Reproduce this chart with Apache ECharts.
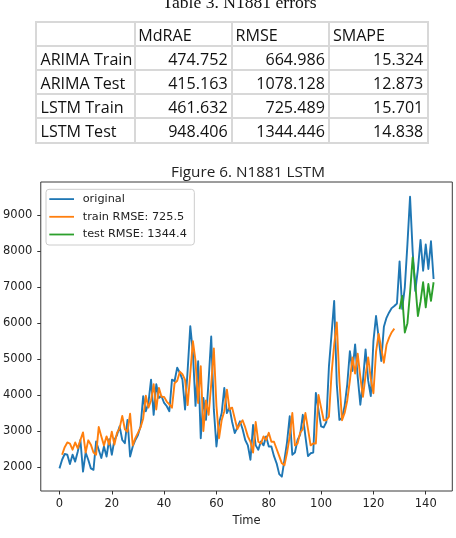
<!DOCTYPE html>
<html><head><meta charset="utf-8">
<script src="https://cdn.jsdelivr.net/npm/echarts@6/dist/echarts.min.js"></script>
<style>
html,body{margin:0;padding:0;background:#fff;}
#chart{position:absolute;left:0;top:0;width:456px;height:538px;}
#tableTitle{position:absolute;left:0;width:479px;text-align:center;top:-6px;font-family:'Liberation Serif';font-size:17.6px;line-height:17.6px;color:#111;white-space:nowrap;z-index:2;}
#table{position:absolute;left:36px;top:22px;width:394px;height:123px;z-index:2;}
.ln{position:absolute;background:#d8d8d8;}
.cell{position:absolute;height:24px;line-height:24px;font-family:'Open Sans';font-size:16.1px;color:#111;white-space:nowrap;}
</style></head>
<body>
<div id="chart"></div>
<div id="tableTitle"></div>
<div id="table"></div>
<script>
// ---------- data ----------
const tableTitle = 'Table 3. N1881 errors';
const tableHeader = ['', 'MdRAE', 'RMSE', 'SMAPE'];
const tableRowLabels = ['ARIMA Train', 'ARIMA Test', 'LSTM Train', 'LSTM Test'];
const tableMdRAE = ['474.752', '415.163', '461.632', '948.406'];
const tableRMSE = ['664.986', '1078.128', '725.489', '1344.446'];
const tableSMAPE = ['15.324', '12.873', '15.701', '14.838'];

const chartTitle = 'Figure 6. N1881 LSTM';
const seriesNames = ['original', 'train RMSE: 725.5', 'test RMSE: 1344.4'];
const xTicks = [0, 20, 40, 60, 80, 100, 120, 140];
const yTicks = [2000, 3000, 4000, 5000, 6000, 7000, 8000, 9000];

const original = [
 1960,2200,2360,2340,2080,2340,2150,2430,2750,1870,
 2400,2200,1960,1920,2710,2480,2250,2570,2290,2770,
 2340,2750,2890,3130,2750,2660,3310,2290,2570,2750,
 2890,3130,3970,3550,3780,4430,3450,4300,3920,3970,
 3780,3690,3550,4430,4390,4760,4620,4430,3600,4700,
 5920,5180,3700,4940,2800,3920,3310,4400,5630,3600,
 2570,3220,3500,4200,3500,3650,3250,2940,3100,3270,
 3050,2750,2600,2200,3170,2600,2480,2710,2600,2850,
 2570,2570,2300,2100,1800,1730,2200,2700,3410,2340,
 2400,2750,2900,3450,2850,2300,2380,2400,4060,3590,
 3130,3100,3250,4800,5700,6620,4300,3310,3360,3700,
 4300,5220,4670,5410,4500,3730,4400,5270,4400,3970,
 5500,6200,5600,4950,5900,6150,6300,6420,6480,6550,
 7720,6400,7000,8200,9520,8000,6900,7500,8320,7460,
 8190,7510,8280,7230
];
const trainStart = 1;
const trainPred = [
 2340,2550,2680,2650,2480,2680,2520,2750,2960,
 2400,2740,2620,2400,2340,3110,2850,2600,2850,2620,
 2980,2620,2950,3080,3420,3050,2980,3480,2600,2800,
 2950,3100,3350,3980,3650,3850,4300,3600,4200,3950,
 3950,3820,3740,3650,4330,4400,4650,4580,4420,3720,
 4600,5500,4950,3780,4800,3000,3850,3450,4300,5300,
 3700,2800,3300,3550,4150,3600,3650,3350,3050,3200,
 3300,3100,2850,2700,2400,3250,2700,2650,2850,2750,
 2950,2700,2700,2500,2300,2100,2050,2400,2850,3500,
 2600,2650,2950,3050,3500,3050,2600,2650,2650,4000,
 3650,3300,3300,3400,4600,5400,6020,4400,3300,3500,
 3850,4400,5050,4600,5150,4500,3950,4550,5050,4450,
 4050,5200,5700,5300,4900,5400,5600,5750,5850
];
const testStart = 130;
const testPred = [6390,6760,5740,6000,6850,7830,7100,6200,6600,7140,6440,7090,6620,7140];

// ---------- table (HTML text) ----------
document.getElementById('tableTitle').textContent = tableTitle;
const tbl = document.getElementById('table');
const colX = [0, 98.7, 196, 293.3, 391.7];
const rowY = [0, 24, 48, 72, 96, 120.5];
colX.forEach(x => { const d = document.createElement('div'); d.className = 'ln';
  d.style.cssText = `left:${x-1}px;top:-1px;width:2px;height:${rowY[5]+2}px;`; tbl.appendChild(d); });
rowY.forEach(y => { const d = document.createElement('div'); d.className = 'ln';
  d.style.cssText = `left:-1px;top:${y-1}px;width:${colX[4]+2}px;height:2px;`; tbl.appendChild(d); });
function addCell(text, r, c, align) {
  const d = document.createElement('div'); d.className = 'cell'; d.textContent = text;
  const top = rowY[r] + 1.2;
  if (align === 'left') { d.style.left = (colX[c] + (c === 0 ? 4.5 : 3.6)) + 'px'; }
  else { d.style.right = (394 - colX[c+1] + 4.4) + 'px'; d.style.textAlign = 'right'; }
  d.style.top = top + 'px'; tbl.appendChild(d);
}
tableHeader.forEach((h, c) => { if (h) addCell(h, 0, c, 'left'); });
const tableCols = [tableMdRAE, tableRMSE, tableSMAPE];
tableRowLabels.forEach((lab, r) => {
  addCell(lab, r+1, 0, 'left');
  tableCols.forEach((col, c) => addCell(col[r], r+1, c+1, 'right'));
});

// ---------- chart ----------
const chart = echarts.init(document.getElementById('chart'), null, {renderer: 'canvas'});
const tickFont = {fontFamily: 'DejaVu Sans', fontSize: 11.5, color: '#222'};
const lineCommon = {type: 'line', symbol: 'none', showSymbol: false, silent: true};
chart.setOption({
  animation: false,
  title: {text: chartTitle, left: 171, top: 165.5, padding: 0,
    textStyle: {fontFamily: 'Open Sans', fontSize: 15.3, fontWeight: 'normal', color: '#222'}},
  grid: {left: 40.7, right: 3.7, top: 182, bottom: 47, show: true, borderColor: '#3a3a3a', borderWidth: 1, backgroundColor: 'transparent'},
  legend: {
    orient: 'vertical', left: 46, top: 189.3, data: seriesNames,
    icon: 'rect', itemWidth: 24.7, itemHeight: 1.8, itemGap: 4.7,
    padding: [3.3, 7.5, 4, 3.3],
    backgroundColor: 'rgba(255,255,255,0.8)', borderColor: '#cccccc', borderWidth: 1, borderRadius: 3,
    textStyle: {fontFamily: 'DejaVu Sans', fontSize: 11.3, color: '#222', lineHeight: 13, padding: [0, 0, 0, 3.7]}
  },
  xAxis: {
    type: 'value', min: -7.15, max: 150.15,
    axisLine: {show: false, onZero: false}, splitLine: {show: false},
    axisTick: {show: true, customValues: xTicks, length: 3.5, lineStyle: {color: '#333', width: 1}},
    axisLabel: Object.assign({customValues: xTicks, margin: 7.5, formatter: v => String(v)}, tickFont),
    name: 'Time', nameLocation: 'middle', nameGap: 23,
    nameTextStyle: {fontFamily: 'DejaVu Sans', fontSize: 11.5, color: '#222'}
  },
  yAxis: {
    type: 'value', min: 1330, max: 9930,
    axisLine: {show: false, onZero: false}, splitLine: {show: false},
    axisTick: {show: true, customValues: yTicks, length: 3.5, lineStyle: {color: '#333', width: 1}},
    axisLabel: Object.assign({customValues: yTicks, margin: 8.5, formatter: v => String(v)}, tickFont)
  },
  series: [
    Object.assign({name: seriesNames[0], data: original.map((v, i) => [i, v]),
      itemStyle: {color: '#1f77b4'}, lineStyle: {width: 1.9, color: '#1f77b4', join: 'round'}}, lineCommon),
    Object.assign({name: seriesNames[1], data: trainPred.map((v, k) => [trainStart + k, v]),
      itemStyle: {color: '#ff7f0e'}, lineStyle: {width: 1.9, color: '#ff7f0e', join: 'round'}}, lineCommon),
    Object.assign({name: seriesNames[2], data: testPred.map((v, k) => [testStart + k, v]),
      itemStyle: {color: '#2ca02c'}, lineStyle: {width: 1.9, color: '#2ca02c', join: 'round'}}, lineCommon)
  ]
});
</script>
</body></html>
